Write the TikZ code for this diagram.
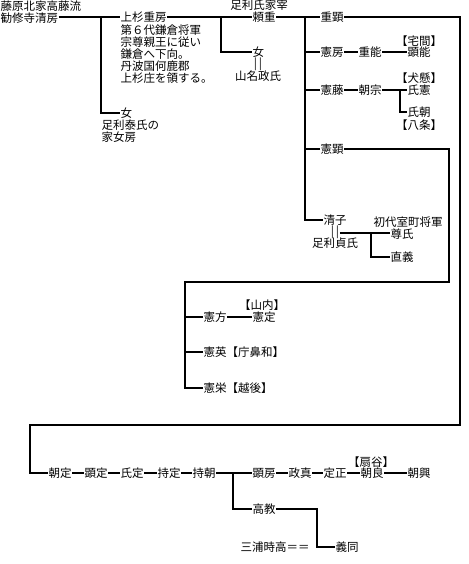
\documentclass[tikz,border=0pt]{standalone}
\usepackage{fontspec}
\setmainfont{Noto Sans CJK JP}
\begin{document}
\begin{tikzpicture}[x=1pt,y=-1pt,
  t/.style={anchor=west,inner sep=0.5pt,font=\fontsize{11.5}{12}\selectfont},
  tc/.style={anchor=center,inner sep=0.5pt,font=\fontsize{11.5}{12}\selectfont},
  ln/.style={line width=2pt}]
\useasboundingbox (0,0) rectangle (468,564);
% top left
\node[t] (fuji) at (0,6) {藤原北家高藤流};
\node[t] (kiyofusa) at (0,18) {勧修寺清房};
\node[t] (shigefusa) at (120,17) {上杉重房};
\node[t,align=left,anchor=north west] (desc) at (120,24) {第６代鎌倉将軍\\宗尊親王に従い\\鎌倉へ下向。\\丹波国何鹿郡\\上杉庄を領する。};
\node[t] (onna1) at (120,113) {女};
\node[t,align=left,anchor=north west] (onna1d) at (101,119) {足利泰氏の\\家女房};
% yorishige
\node[tc] (ashikagake) at (259,5) {足利氏家宰};
\node[t] (yorishige) at (252,17) {頼重};
\node[t] (onna2) at (252,52) {女};
\node[tc] (eq1) at (258,64) {|\kern2pt|};
\node[tc] (masauji) at (258,76) {山名政氏};
% sons of yorishige
\node[t] (shigeaki) at (320,17) {重顕};
\node[t] (norifusa) at (320,52) {憲房};
\node[t] (shigeyoshi) at (358,52) {重能};
\node[t] (akiyoshi) at (407,52) {顕能};
\node[tc] (takuma) at (419,41) {【宅間】};
\node[t] (norifuji) at (320,90) {憲藤};
\node[t] (tomomune) at (358,90) {朝宗};
\node[t] (ujinori) at (407,90) {氏憲};
\node[tc] (inukake) at (419,78) {【犬懸】};
\node[t] (ujitomo) at (407,112) {氏朝};
\node[tc] (hachijo) at (419,125) {【八条】};
\node[t] (noriaki) at (320,149) {憲顕};
\node[t] (kiyoko) at (323,220) {清子};
\node[tc] (eq2) at (335,232) {|\kern2pt|};
\node[tc] (sadauji) at (335,243) {足利貞氏};
\node[tc] (shodai) at (408,222) {初代室町将軍};
\node[t] (takauji) at (390,234) {尊氏};
\node[t] (tadayoshi) at (390,257) {直義};
% noriaki's sons
\node[t] (norikata) at (203,317) {憲方};
\node[t] (norisada) at (252,317) {憲定};
\node[tc] (yamanouchi) at (262,305) {【山内】};
\node[t] (norihide) at (203,352) {憲英【庁鼻和】};
\node[t] (norimasa) at (203,388) {憲栄【越後】};
% bottom
\node[t] (tomosada) at (48,473) {朝定};
\node[t] (akisada) at (84,473) {顕定};
\node[t] (ujisada) at (120,473) {氏定};
\node[t] (mochisada) at (157,473) {持定};
\node[t] (mochitomo) at (192,473) {持朝};
\node[t] (akifusa) at (252,473) {顕房};
\node[t] (masazane) at (288,473) {政真};
\node[t] (sadamasa) at (323,473) {定正};
\node[t] (tomoyoshi) at (360,473) {朝良};
\node[tc] (ogigayatsu) at (371,462) {【扇谷】};
\node[t] (tomooki) at (407,473) {朝興};
\node[t] (takanori) at (252,509) {高教};
\node[t] (yoshimoto) at (335,547) {義同};
\node[t] (miura) at (240,547) {三浦時高＝＝};
% coordinates
\coordinate (c1) at (101,17);
\coordinate (c2) at (221,17);
\coordinate (c3) at (305,17);
\coordinate (c4) at (460,17);
\coordinate (c5) at (460,425);
\coordinate (c6) at (30,425);
\coordinate (c7) at (400,90);
\coordinate (c8) at (449,149);
\coordinate (c9) at (449,282);
\coordinate (c10) at (185,282);
\coordinate (c11) at (371,233);
\coordinate (c12) at (233,473);
\coordinate (c13) at (317,509);
% connectors
\draw[ln] (kiyofusa.east |- c1) -- (shigefusa.west);
\draw[ln] (c1) |- (onna1.west);
\draw[ln] (shigefusa.east) -- (yorishige.west);
\draw[ln] (c2) |- (onna2.west);
\draw[ln] (yorishige.east) -- (shigeaki.west);
\draw[ln] (c3) |- (kiyoko.west);
\draw[ln] (c3 |- norifusa.west) -- (norifusa.west);
\draw[ln] (c3 |- norifuji.west) -- (norifuji.west);
\draw[ln] (c3 |- noriaki.west) -- (noriaki.west);
\draw[ln] (shigeaki.east) -- (c4) -- (c5) -- (c6) |- (tomosada.west);
\draw[ln] (norifusa.east) -- (shigeyoshi.west);
\draw[ln] (shigeyoshi.east) -- (akiyoshi.west);
\draw[ln] (norifuji.east) -- (tomomune.west);
\draw[ln] (tomomune.east) -- (ujinori.west);
\draw[ln] (c7) |- (ujitomo.west);
\draw[ln] (noriaki.east) -- (c8) -- (c9) -- (c10) |- (norimasa.west);
\draw[ln] (c10 |- norikata.west) -- (norikata.west);
\draw[ln] (c10 |- norihide.west) -- (norihide.west);
\draw[ln] (norikata.east) -- (norisada.west);
\draw[ln] (eq2.east |- c11) -- (takauji.west |- c11);
\draw[ln] (c11) |- (tadayoshi.west);
\draw[ln] (tomosada.east) -- (akisada.west);
\draw[ln] (akisada.east) -- (ujisada.west);
\draw[ln] (ujisada.east) -- (mochisada.west);
\draw[ln] (mochisada.east) -- (mochitomo.west);
\draw[ln] (mochitomo.east) -- (akifusa.west);
\draw[ln] (c12) |- (takanori.west);
\draw[ln] (akifusa.east) -- (masazane.west);
\draw[ln] (masazane.east) -- (sadamasa.west);
\draw[ln] (sadamasa.east) -- (tomoyoshi.west);
\draw[ln] (tomoyoshi.east) -- (tomooki.west);
\draw[ln] (takanori.east) -- (c13) |- (yoshimoto.west);
\end{tikzpicture}
\end{document}
